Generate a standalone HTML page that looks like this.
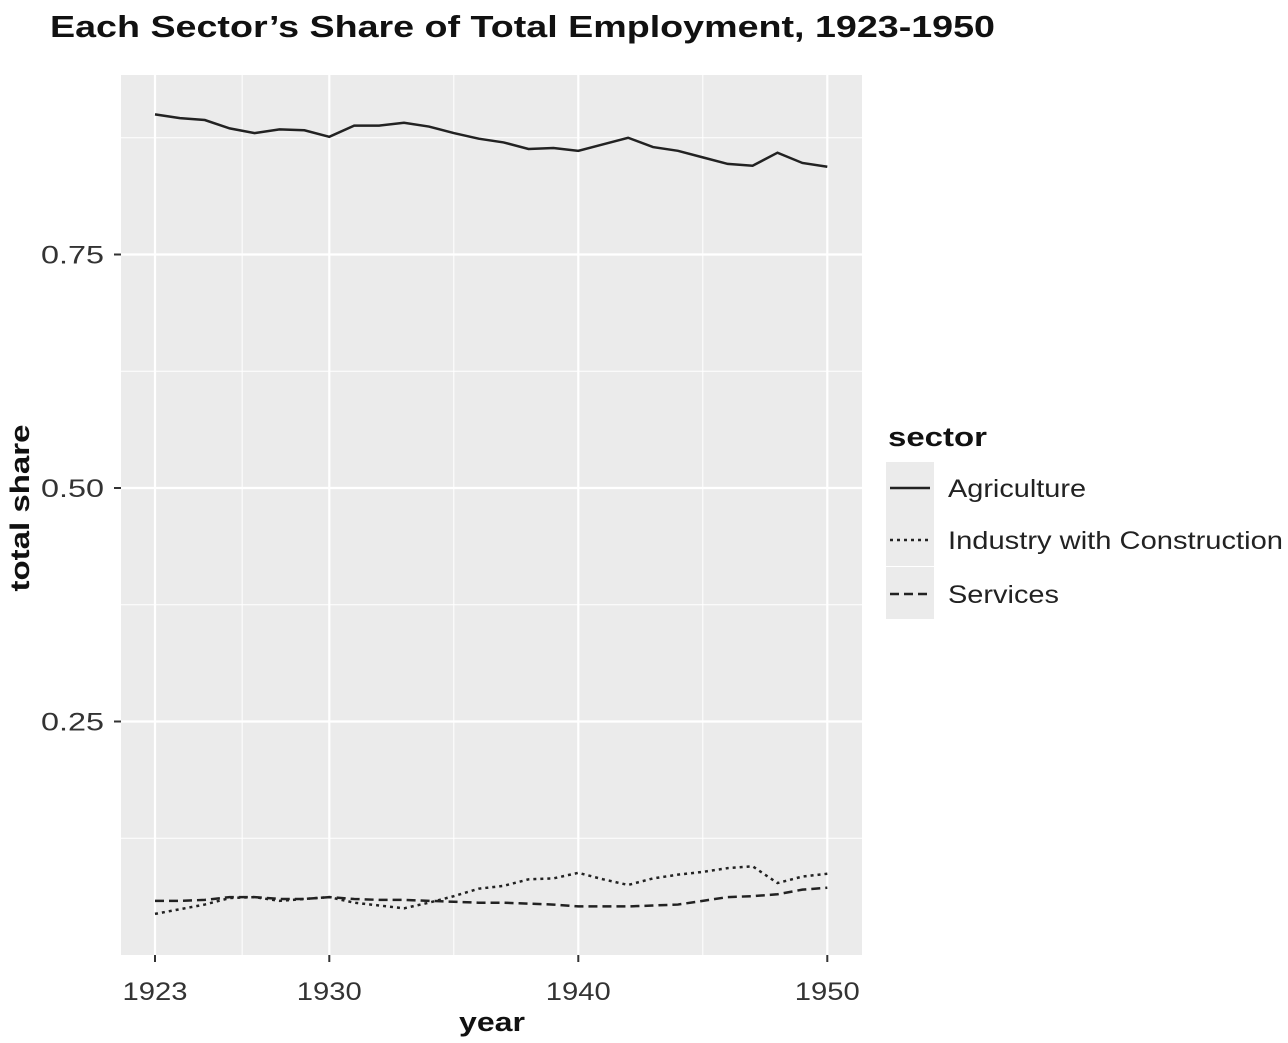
<!DOCTYPE html>
<html><head><meta charset="utf-8"><style>
body{margin:0;background:#fff;font-family:"Liberation Sans",sans-serif}
svg text{font-family:"Liberation Sans",sans-serif}
</style></head><body>
<svg id="chart" width="1288" height="1038">
<text x="50" y="37" font-size="31" font-weight="bold" fill="#111" textLength="945" lengthAdjust="spacingAndGlyphs">Each Sector’s Share of Total Employment, 1923-1950</text>
<rect x="121" y="75" width="741" height="880" fill="#ebebeb"/>
<g id="grid"></g><g id="series"></g><g id="axes"></g>
<text x="-508" y="29" transform="rotate(-90)" font-size="27" font-weight="bold" text-anchor="middle" fill="#111" textLength="167" lengthAdjust="spacingAndGlyphs">total share</text>
<text x="492" y="1031" font-size="27" font-weight="bold" text-anchor="middle" fill="#111" textLength="66" lengthAdjust="spacingAndGlyphs">year</text>
<g>
<text x="888" y="446" font-size="27" font-weight="bold" fill="#111" textLength="99" lengthAdjust="spacingAndGlyphs">sector</text>
<g><rect x="886" y="462" width="48" height="52" fill="#ebebeb"/><line x1="890" x2="930" y1="488" y2="488" stroke="#222" stroke-width="2.5"/><text x="948" y="497" font-size="25" fill="#222" textLength="138" lengthAdjust="spacingAndGlyphs">Agriculture</text></g>
<g><rect x="886" y="514" width="48" height="52" fill="#ebebeb"/><line x1="890" x2="930" y1="540" y2="540" stroke="#222" stroke-width="2.5" stroke-dasharray="3,4"/><text x="948" y="549" font-size="25" fill="#222" textLength="335" lengthAdjust="spacingAndGlyphs">Industry with Construction</text></g>
<g><rect x="886" y="567" width="48" height="52" fill="#ebebeb"/><line x1="890" x2="930" y1="594" y2="594" stroke="#222" stroke-width="2.5" stroke-dasharray="9,5"/><text x="948" y="603" font-size="25" fill="#222" textLength="111" lengthAdjust="spacingAndGlyphs">Services</text></g>
</g>
</svg>
<script>
const years=[1923,1924,1925,1926,1927,1928,1929,1930,1931,1932,1933,1934,1935,1936,1937,1938,1939,1940,1941,1942,1943,1944,1945,1946,1947,1948,1949,1950];
const agriculture=[0.900,0.896,0.894,0.885,0.880,0.884,0.883,0.876,0.888,0.888,0.891,0.887,0.880,0.874,0.870,0.863,0.864,0.861,0.868,0.875,0.865,0.861,0.854,0.847,0.845,0.859,0.848,0.844];
const industry=[0.044,0.049,0.054,0.061,0.062,0.058,0.060,0.062,0.056,0.053,0.050,0.056,0.063,0.071,0.074,0.081,0.082,0.088,0.081,0.075,0.082,0.086,0.089,0.093,0.095,0.077,0.084,0.087];
const services=[0.058,0.058,0.059,0.062,0.062,0.060,0.060,0.062,0.060,0.059,0.059,0.058,0.057,0.056,0.056,0.055,0.054,0.052,0.052,0.052,0.053,0.054,0.058,0.062,0.063,0.065,0.070,0.072];
const xTicks=[1923,1930,1940,1950];
const xMinor=[1926.5,1935,1945];
const yTicks=[0.25,0.5,0.75];
const yTickLabels=["0.25","0.50","0.75"];
const yMinor=[0.125,0.375,0.625,0.875];
const X=v=>155+(v-1923)*24.9;
const Y=v=>488-(v-0.5)*934;
const NS="http://www.w3.org/2000/svg";
function mk(t,a,p){const e=document.createElementNS(NS,t);for(const k in a)e.setAttribute(k,a[k]);document.getElementById(p).appendChild(e);return e;}
yMinor.forEach(v=>{const e=mk('line',{x1:121,x2:862,y1:Y(v),y2:Y(v),stroke:'#fff','stroke-width':1},'grid');

});
xMinor.forEach(v=>{const e=mk('line',{x1:X(v),x2:X(v),y1:75,y2:955,stroke:'#fff','stroke-width':1},'grid');

});
yTicks.forEach((v,i)=>{const e=mk('line',{x1:121,x2:862,y1:Y(v),y2:Y(v),stroke:'#fff','stroke-width':2.2},'grid');


const t=mk('line',{x1:114,x2:121,y1:Y(v),y2:Y(v),stroke:'#333','stroke-width':2},'axes');


const l=mk('text',{x:104,y:Y(v)+9,'font-size':25,'text-anchor':'end',fill:'#333',textLength:63,lengthAdjust:'spacingAndGlyphs'},'axes');l.textContent=yTickLabels[i];

});
xTicks.forEach(v=>{const e=mk('line',{x1:X(v),x2:X(v),y1:75,y2:955,stroke:'#fff','stroke-width':2.2},'grid');


const t=mk('line',{x1:X(v),x2:X(v),y1:955,y2:962,stroke:'#333','stroke-width':2},'axes');


const l=mk('text',{x:X(v),y:1000,'font-size':25,'text-anchor':'middle',fill:'#333',textLength:65,lengthAdjust:'spacingAndGlyphs'},'axes');l.textContent=v;

});
function line(vals,dash,name){const d=vals.map((v,i)=>(i?'L':'M')+X(years[i])+','+Y(v)).join(' ');
const p=mk('path',{d:d,fill:'none',stroke:'#222','stroke-width':2.5,'stroke-dasharray':dash},'series');

}
line(agriculture,'none','agriculture-line');
line(industry,'3,4','industry-line');
line(services,'9,5','services-line');
</script>
</body></html>
